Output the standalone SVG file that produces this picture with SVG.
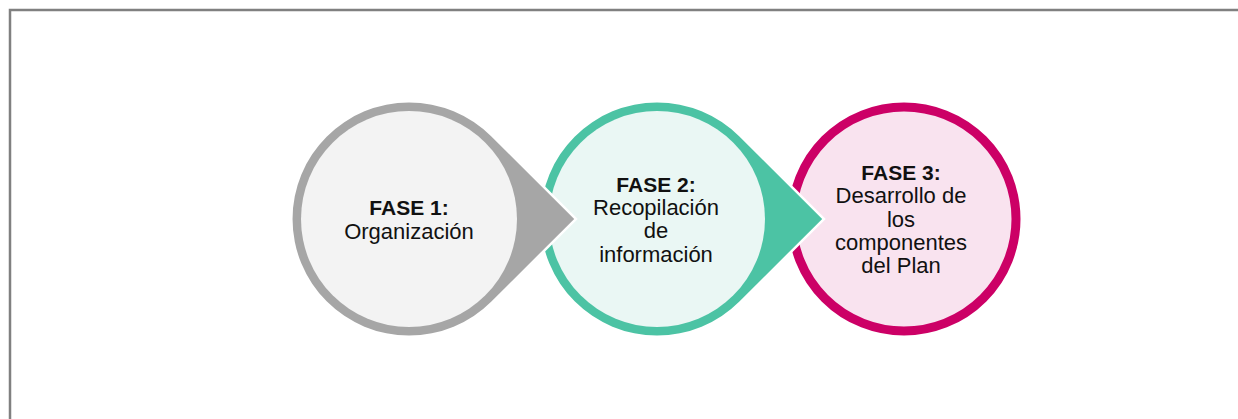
<svg xmlns="http://www.w3.org/2000/svg" width="1238" height="419" viewBox="0 0 1238 419">
  <style>
    .frame { fill: none; stroke: #808080; stroke-width: 2.5; }
    .drop { stroke: #ffffff; stroke-width: 5; paint-order: stroke; }
    .t { font-family: "Liberation Sans", Arial, sans-serif; font-size: 22px; fill: #111111; text-anchor: middle; }
    .b { font-weight: bold; font-size: 21px; }
  </style>
  <rect width="1238" height="419" fill="#ffffff"/>
  <path class="frame" d="M10,419 V10 H1238"/>

  <g id="fase3">
    <circle cx="904" cy="219" r="116.5" fill="#ffffff"/>
    <circle cx="904" cy="219" r="112" fill="#f9e3ef" stroke="#cc0066" stroke-width="9"/>
    <text class="t b" x="901" y="180">FASE 3:</text>
    <text class="t" x="901" y="203">Desarrollo de</text>
    <text class="t" x="901" y="227">los</text>
    <text class="t" x="901" y="250">componentes</text>
    <text class="t" x="901" y="273">del Plan</text>
  </g>

  <g id="fase2">
    <path class="drop" fill="#4cc3a4" d="M739.4,136.6 A116.5,116.5 0 1 0 739.4,301.4 L822.2,219 Z"/>
    <circle cx="657" cy="219" r="108" fill="#eaf7f4"/>
    <text class="t b" x="656" y="192">FASE 2:</text>
    <text class="t" x="656" y="215">Recopilación</text>
    <text class="t" x="656" y="238">de</text>
    <text class="t" x="656" y="262">información</text>
  </g>

  <g id="fase1">
    <path class="drop" fill="#a6a6a6" d="M491.4,136.6 A116.5,116.5 0 1 0 491.4,301.4 L574.2,219 Z"/>
    <circle cx="409" cy="219" r="108" fill="#f3f3f3"/>
    <text class="t b" x="409" y="215">FASE 1:</text>
    <text class="t" x="409" y="239">Organización</text>
  </g>

  <g id="connectors"></g>
</svg>
